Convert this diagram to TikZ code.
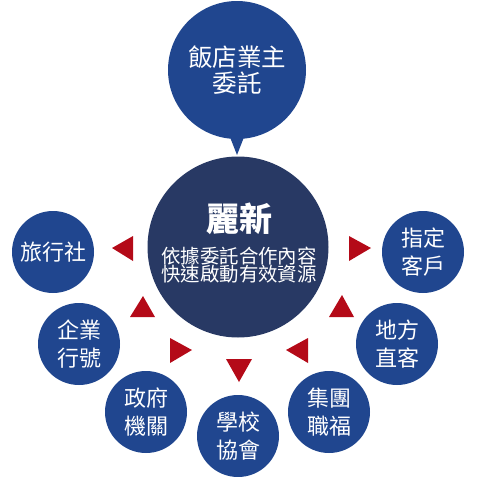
\documentclass[tikz,border=0pt]{standalone}
\usepackage{fontspec}
\setmainfont{Noto Sans CJK TC}
\newfontfamily\heavyfont{Noto Sans CJK TC Black}
\definecolor{cblue}{RGB}{32,70,143}
\definecolor{cnavy}{RGB}{40,57,100}
\definecolor{cred}{RGB}{180,10,24}
\begin{document}
\begin{tikzpicture}[x=1pt,y=-1pt,
  bubble/.style={circle, fill=cblue, text=white, inner sep=0pt, minimum size=82pt, align=center, font=\fontsize{22}{28}\selectfont},
  tri/.style={fill=cred}]
\useasboundingbox (0,0) rectangle (477,477);
% top bubble with pointer
\fill[cblue] (228,132) -- (237,155) -- (246,132) -- cycle;
\node[circle, fill=cblue, text=white, inner sep=0pt, minimum size=138pt, align=center, font=\fontsize{24.5}{26}\selectfont] (owner) at (237,70) {飯店業主\\委託};
% centre
\node[circle, fill=cnavy, text=white, inner sep=0pt, minimum size=181pt] (core) at (238,247) {};
\node[text=white, font=\fontsize{33}{33}\selectfont\heavyfont] (brand) at (239,219) {麗新};
\node[text=white, align=center, font=\fontsize{19.4}{18.5}\selectfont] (desc) at (239,265) {依據委託合作內容\\快速啟動有效資源};
% outer circles
\node[bubble] (travel) at (53,252) {旅行社};
\node[bubble] (corp) at (79,344) {企業\\行號};
\node[bubble] (gov) at (146,412) {政府\\機關};
\node[bubble] (school) at (238,436) {學校\\協會};
\node[bubble] (group) at (329,412) {集團\\職福};
\node[bubble] (local) at (397,344) {地方\\直客};
\node[bubble] (client) at (423,252) {指定\\客戶};
% red triangles
\fill[tri] (112,248) -- (133,236) -- (133,261) -- cycle;
\fill[tri] (143,296) -- (130,317) -- (155,317) -- cycle;
\fill[tri] (192,350) -- (170,338) -- (170,363) -- cycle;
\fill[tri] (239,382) -- (226,359) -- (252,359) -- cycle;
\fill[tri] (286,350) -- (308,338) -- (308,363) -- cycle;
\fill[tri] (342,295) -- (329,317) -- (354,317) -- cycle;
\fill[tri] (371,248) -- (349,236) -- (349,261) -- cycle;
\end{tikzpicture}
\end{document}
